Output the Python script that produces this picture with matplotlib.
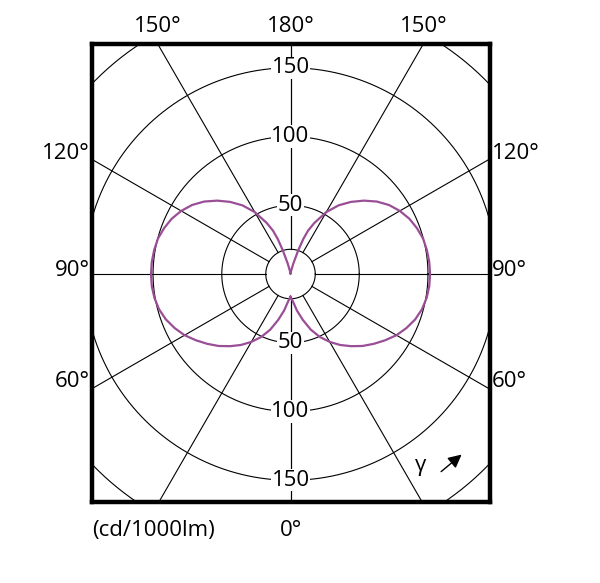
import numpy as np
import matplotlib
matplotlib.use('Agg')
import matplotlib.pyplot as plt

plt.rcParams['font.family'] = ['Open Sans', 'DejaVu Sans']

gamma = [0, 5, 10, 15, 20, 25, 30, 35, 40, 45, 50, 55, 60, 65, 70, 75, 80, 85, 90,
         95, 100, 105, 110, 115, 120, 125, 130, 135, 140, 145, 150, 155, 158, 160,
         162, 165, 170, 180]
intensity = [16.5, 20, 27, 34.5, 43, 50.5, 57, 63, 68.5, 74, 79, 84, 89, 93, 96.5, 99,
             100.5, 101.3, 101.5, 101.3, 100.7, 99.8, 97.8, 95.3, 91.8, 87.5, 82, 75.5,
             68.5, 61, 52, 41, 34, 27, 18, 8, 2, 0]

ring_values = [50, 100, 150, 200]
ring_labels = ['50', '100', '150']
spoke_angles = [0, 30, 60, 90, 120, 150, 180]
hub = 18

fig = plt.figure(figsize=(6, 5.83), dpi=100)
ax = fig.add_axes([92 / 600, 81 / 583, 398 / 600, 458 / 583])
ax.set_xlim(-144.4, 145.1)
ax.set_ylim(-165.8, 167.3)
ax.set_xticks([])
ax.set_yticks([])
for s in ax.spines.values():
    s.set_linewidth(3.2)
    s.set_color('black')

# rings
t = np.linspace(0, 2 * np.pi, 400)
for rv in ring_values + [hub]:
    ax.plot(rv * np.cos(t), rv * np.sin(t), color='black', lw=0.8, zorder=1)

# spokes
for a in spoke_angles:
    g = np.radians(a)
    for side in (1, -1):
        ax.plot([side * hub * np.sin(g), side * 400 * np.sin(g)],
                [-hub * np.cos(g), -400 * np.cos(g)], color='black', lw=0.8, zorder=1)

# curve (C0-180 plane, mirrored)
g = np.radians(gamma)
r = np.array(intensity)
xr = r * np.sin(g)
yr = -r * np.cos(g)
xs = np.concatenate([xr, -xr[::-1]])
ys = np.concatenate([yr, yr[::-1]])
ax.plot(xs, ys, color='#9a4e96', lw=1.6, zorder=3, solid_joinstyle='round')

# ring labels on the vertical axis
for lab, rv in zip(ring_labels, ring_values):
    for sgn in (1, -1):
        ax.text(0, sgn * rv, lab, ha='center', va='center', fontsize=16,
                bbox=dict(facecolor='white', edgecolor='none', pad=0.5), zorder=4)

# angle labels outside the frame
ytop, ybot = 167.3, -165.8
xl, xr_ = -144.4, 145.1
lab_kw = dict(fontsize=16, ha='center', va='center', clip_on=False)
ax.text(0, ytop + 13, '180°', **lab_kw)
dx150 = ytop * np.tan(np.radians(30))
ax.text(-dx150, ytop + 13, '150°', **lab_kw)
ax.text(dx150, ytop + 13, '150°', **lab_kw)
ax.text(0, ybot - 21, '0°', **lab_kw)
ax.text(-144.4, ybot - 21, '(cd/1000lm)', fontsize=16, ha='left', va='center', clip_on=False)

for txt, yy in (('120°', 87.5), ('90°', 2.5), ('60°', -78)):
    ax.text(xl - 1.5, yy, txt, fontsize=16, ha='right', va='center', clip_on=False)
    ax.text(xr_ + 1.5, yy, txt, fontsize=16, ha='left', va='center', clip_on=False)

# gamma arrow
ax.text(95, -139.6, 'γ', fontsize=16, ha='center', va='center')
ax.annotate('', xy=(126, -130), xytext=(108, -145),
            arrowprops=dict(arrowstyle='-|>', color='black', lw=1.0, mutation_scale=20))

fig.savefig('out.png', dpi=100)
